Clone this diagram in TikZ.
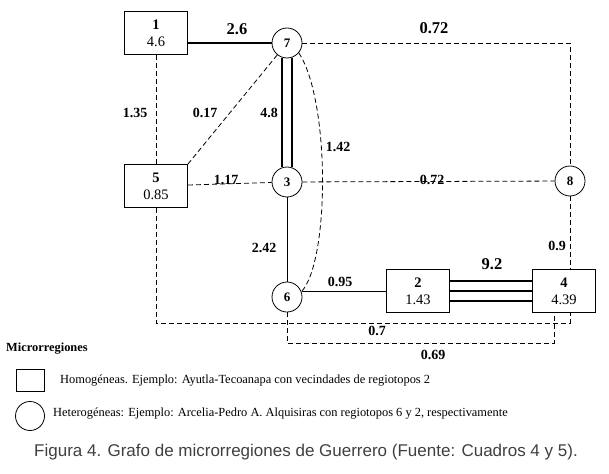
\documentclass[tikz,border=0pt]{standalone}
\usepackage{fontspec}
\setmainfont{Liberation Serif}
\newfontfamily\capfont{Liberation Sans}
\usepackage{tikz}
\usetikzlibrary{positioning,calc}

\begin{document}
\begin{tikzpicture}[x=1pt,y=-1pt,
  region/.style={
    draw,
    line width=0.8pt,
    minimum width=63pt,
    minimum height=43pt,
    inner sep=0pt,
    align=center,
    font=\fontsize{14.5}{17}\selectfont
  },
  hub/.style={draw, circle, line width=0.8pt, minimum size=30pt, inner sep=0pt, font=\fontsize{13}{14}\selectfont\bfseries},
  strong/.style={line width=2pt},
  link/.style={line width=1pt},
  weak/.style={dash pattern=on 5pt off 3pt, line width=0.8pt},
  val/.style={font=\fontsize{14}{15}\selectfont\bfseries, inner sep=1pt},
  bigval/.style={val, font=\fontsize{16.5}{17}\selectfont\bfseries}
]
\useasboundingbox (0,0) rectangle (609,473);

\node[region] (r1) at (156,33) {\textbf{1}\\4.6};
\node[hub] (r7) at (287,43) {7};
\node[region] (r5) at (156,186) {\textbf{5}\\0.85};
\node[hub] (r3) at (287,182) {3};
\node[hub] (r8) at (570,181) {8};
\node[hub] (r6) at (287,297) {6};
\node[region] (r2) at (418,291) {\textbf{2}\\1.43};
\node[region] (r4) at (564,291) {\textbf{4}\\4.39};

\coordinate (low) at (0,323);
\coordinate (lower) at (0,343);

\draw[strong] (r1.east |- r7) -- (r7.west);
\draw[weak] (r7.east) -| (r8.north);
\draw[weak] (r1) -- (r5);
\draw[weak] (r5.north east) -- (r7);
\draw[weak] (r5) -- (r3);
\draw[weak] (r3) -- (r8);
\draw[strong] ([xshift=-5pt]r7.south) -- ([xshift=-5pt]r3.north);
\draw[strong] ([xshift=5pt]r7.south) -- ([xshift=5pt]r3.north);
\draw[link] (r3) -- (r6);
\draw[weak] (r7.-40) .. controls (330,100) and (330,260) .. (r6.20);
\draw[link] (r2.west) -- (r2.west -| r6.east);
\foreach \d in {-10,0,10}
  \draw[strong] ([yshift=\d pt]r2.east) -- ([yshift=\d pt]r4.west);
\draw[weak] (r8.south) -- (r8 |- r4.north);
\draw[weak] (r5.south) |- (r8 |- low) -- (r8 |- r4.south);
\draw[weak] (r6.south) -- (r6 |- lower) -| ([xshift=-10pt]r4.south);

\node[bigval] (w17) at (237,29) {2.6};
\node[bigval] (w78) at (434,28) {0.72};
\node[val] (w15) at (135,113) {1.35};
\node[val] (w57) at (205,113) {0.17};
\node[val] (w73) at (269,113) {4.8};
\node[val] (w76) at (338,147) {1.42};
\node[val] (w53) at (226,180) {1.17};
\node[val] (w38) at (432,180) {0.72};
\node[val] (w36) at (264,248) {2.42};
\node[val] (w84) at (557,246) {0.9};
\node[val] (w62) at (340,282) {0.95};
\node[bigval] (w24) at (492,264) {9.2};
\node[val] (w54) at (377,331) {0.7};
\node[val] (w64) at (433,355) {0.69};

\node[anchor=west, inner sep=0pt, font=\fontsize{12.4}{13}\selectfont\bfseries] (legtitle) at (6,349) {Microrregiones};
\node[draw, line width=0.8pt, minimum width=28pt, minimum height=22pt, inner sep=0pt] (keybox) at (30,380) {};
\node[anchor=west, inner sep=0pt, font=\fontsize{12.4}{13}\selectfont] (keyboxtxt) at (60,381) {Homogéneas. Ejemplo: Ayutla-Tecoanapa con vecindades de regiotopos 2};
\node[draw, circle, line width=0.8pt, minimum size=29pt, inner sep=0pt] (keyhub) at (30,416) {};
\node[anchor=west, inner sep=0pt, font=\fontsize{12.4}{13}\selectfont] (keyhubtxt) at (53,414) {Heterogéneas: Ejemplo: Arcelia-Pedro A. Alquisiras con regiotopos 6 y 2, respectivamente};
\node[font=\capfont\fontsize{17}{19}\selectfont, text=black!75] (caption) at (306,452) {Figura 4. Grafo de microrregiones de Guerrero (Fuente: Cuadros 4 y 5).};
\end{tikzpicture}
\end{document}
